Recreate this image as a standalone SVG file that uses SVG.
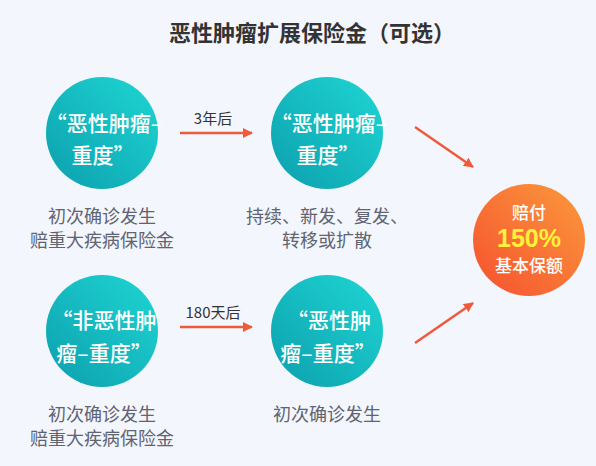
<svg xmlns="http://www.w3.org/2000/svg" width="596" height="466" viewBox="0 0 596 466">
<defs>
<linearGradient id="teal" x1="1" y1="0" x2="0" y2="1">
<stop offset="0" stop-color="#1fd6d3"/>
<stop offset="1" stop-color="#0c9fae"/>
</linearGradient>
<linearGradient id="orange" x1="1" y1="0" x2="0" y2="1">
<stop offset="0" stop-color="#fb9a3c"/>
<stop offset="1" stop-color="#f6502f"/>
</linearGradient>
<marker id="ah" viewBox="0 0 10 10" refX="9" refY="5" markerWidth="10" markerHeight="10" markerUnits="userSpaceOnUse" orient="auto">
<path d="M0,0 L10,5 L0,10 z" fill="#f05a3c"/>
</marker>
<style>
text{font-family:"Noto Sans CJK SC","Noto Sans",sans-serif;text-anchor:middle;}
.ct{fill:#ffffff;font-size:21px;font-weight:500;}
.cap{fill:#5f6470;font-size:18px;}
.lab{fill:#333;font-size:15px;}
.conn line{stroke:#f05a3c;stroke-width:2.5;fill:none;marker-end:url(#ah);}
</style>
</defs>
<rect width="596" height="466" fill="#f3f6fd"/>
<text x="312" y="41" style="font-size:22px;font-weight:700;fill:#333">恶性肿瘤扩展保险金（可选）</text>

<g id="n1">
<circle cx="102" cy="133" r="56" fill="url(#teal)"/>
<text class="ct" x="104" y="131">“恶性肿瘤–</text>
<text class="ct" x="103" y="163">重度”</text>
<text class="cap" x="102" y="223">初次确诊发生</text>
<text class="cap" x="102" y="247">赔重大疾病保险金</text>
</g>
<g id="n2">
<circle cx="327" cy="133" r="56" fill="url(#teal)"/>
<text class="ct" x="329" y="131">“恶性肿瘤–</text>
<text class="ct" x="328" y="163">重度”</text>
<text class="cap" x="327" y="223">持续、新发、复发、</text>
<text class="cap" x="327" y="247">转移或扩散</text>
</g>
<g id="n3">
<circle cx="102" cy="331" r="56" fill="url(#teal)"/>
<text class="ct" x="104" y="328">“非恶性肿</text>
<text class="ct" x="104" y="361">瘤–重度”</text>
<text class="cap" x="102" y="421">初次确诊发生</text>
<text class="cap" x="102" y="445">赔重大疾病保险金</text>
</g>
<g id="n4">
<circle cx="327" cy="331" r="56" fill="url(#teal)"/>
<text class="ct" x="329" y="328">“恶性肿</text>
<text class="ct" x="328" y="361">瘤–重度”</text>
<text class="cap" x="327" y="421">初次确诊发生</text>
</g>
<g id="n5">
<circle cx="529" cy="240" r="56" fill="url(#orange)"/>
<text x="529" y="219" style="fill:#fff;font-size:17px;font-weight:500">赔付</text>
<text x="529" y="247" style="fill:#fff23a;font-size:25px;font-weight:700;font-family:'Liberation Sans',Arial,sans-serif">150%</text>
<text x="529" y="272" style="fill:#fff;font-size:17px;font-weight:500">基本保额</text>
</g>

<g id="connectors" class="conn">
<line x1="180" y1="133" x2="252" y2="133"/>
<line x1="180" y1="327" x2="252" y2="327"/>
<line x1="415" y1="127" x2="473" y2="167"/>
<line x1="415" y1="343" x2="473" y2="303"/>
<text class="lab" x="213" y="124">3年后</text>
<text class="lab" x="213" y="318">180天后</text>
</g>
</svg>
